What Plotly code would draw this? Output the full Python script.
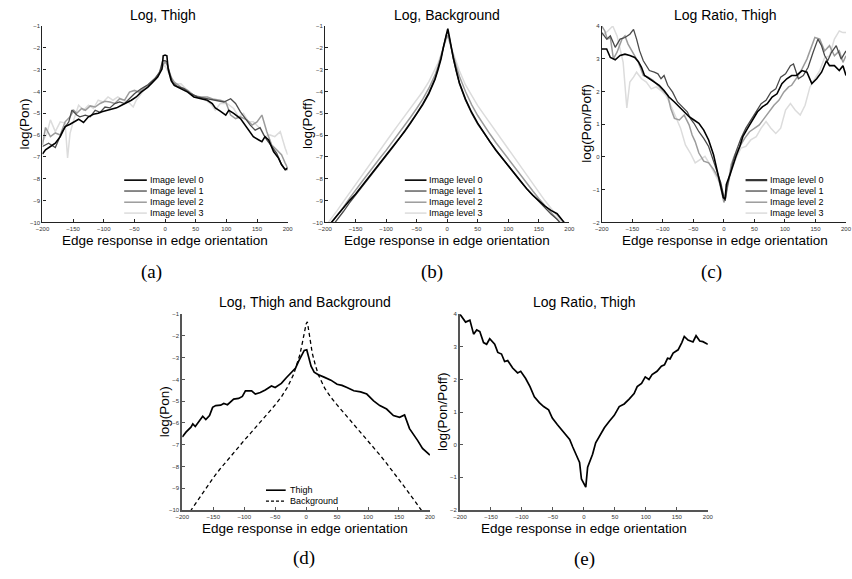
import plotly.graph_objects as go

W, H = 852, 579

# ---------------- data ----------------
X_TICKS = [-200, -150, -100, -50, 0, 50, 100, 150, 200]
Y_TICKS_LOG = list(range(-10, 0))
Y_TICKS_RATIO = list(range(-2, 5))

LEVEL_NAMES = ["Image level 0", "Image level 1", "Image level 2", "Image level 3"]

# (a) log P(on), thigh, per image level
A_X0 = [-200,-195,-187,-179,-171,-163,-155,-147,-141,-133,-125,-117,-109,-103,-95,-87,-79,-71,-63,-55,
        -47,-39,-28,-20,-12,-5,-3,0,3,5,10,15,26,37,47,58,69,77,82,90,99,104,112,123,134,144,153,158,163,169,
        177,185,190,196,200]
A_Y0 = [-6.87,-6.67,-6.52,-6.37,-6.07,-5.61,-5.5,-5.39,-5.27,-5.42,-5.16,-5.04,-5.0,-4.93,-4.86,-4.81,-4.75,-4.63,-4.52,-4.4,
        -4.25,-4.03,-3.8,-3.57,-3.34,-2.97,-2.36,-2.33,-2.36,-2.97,-3.5,-3.72,-3.87,-4.03,-4.25,-4.33,-4.4,-4.55,-4.75,-4.9,
        -5.08,-4.86,-5.0,-5.24,-5.69,-6.07,-6.22,-6.3,-6.07,-6.22,-6.75,-7.05,-7.35,-7.58,-7.5]
A_X1 = [-200,-190,-179,-168,-157,-152,-144,-139,-130,-122,-114,-106,-98,-90,-82,-74,-66,-58,-50,-39,
        -28,-17,-9,-4,0,3,7,12,20,31,42,53,64,74,85,96,107,115,123,131,139,147,155,161,166,174,182,190,196,200]
A_Y1 = [-6.52,-6.37,-6.57,-5.84,-5.39,-4.85,-5.08,-5.16,-5.08,-5.16,-4.86,-4.96,-4.71,-4.75,-4.55,-4.48,-4.55,-4.33,-4.1,-3.87,
        -3.69,-3.42,-3.12,-2.59,-2.59,-2.63,-3.12,-3.57,-3.77,-3.87,-4.1,-4.25,-4.3,-4.36,-4.4,-4.48,-4.33,-4.55,-4.93,-5.24,
        -5.54,-5.77,-5.66,-5.99,-6.22,-6.52,-6.82,-7.35,-7.58,-7.58]
A_X2 = [-200,-195,-187,-179,-171,-163,-155,-149,-144,-136,-130,-122,-114,-106,-98,-90,-82,-74,-66,-58,
        -50,-42,-33,-23,-15,-6,0,4,10,15,26,37,47,58,69,80,90,99,107,115,123,134,142,150,158,166,174,182,190,196,200]
A_Y2 = [-6.45,-5.65,-6.07,-5.9,-5.99,-5.39,-5.16,-4.86,-5.0,-4.78,-4.86,-4.66,-4.71,-4.55,-4.45,-4.48,-4.55,-4.33,-4.4,-4.03,
        -3.95,-4.03,-3.8,-3.65,-3.42,-2.97,-2.63,-2.82,-3.34,-3.57,-3.8,-3.95,-4.18,-4.25,-4.25,-4.36,-4.4,-4.48,-5.08,-5.24,
        -5.16,-5.31,-5.54,-5.39,-5.08,-5.84,-6.45,-6.67,-6.9,-7.28,-7.5]
A_X3 = [-200,-193,-187,-179,-171,-163,-159,-155,-149,-141,-133,-125,-117,-109,-101,-93,-85,-77,-69,-60,
        -52,-47,-39,-31,-23,-12,-4,0,4,10,18,26,34,42,53,64,74,82,90,101,112,120,128,136,144,155,163,171,179,188,196,200]
A_Y3 = [-6.3,-5.95,-5.3,-5.84,-5.39,-5.45,-7.05,-5.92,-5.31,-4.63,-4.86,-4.63,-4.78,-4.4,-4.48,-4.25,-4.4,-4.25,-4.4,-4.48,
        -4.71,-4.4,-4.1,-3.8,-3.57,-3.27,-2.89,-2.82,-3.04,-3.42,-3.65,-3.65,-3.87,-4.1,-4.25,-4.36,-4.55,-4.86,-4.55,-4.55,
        -4.78,-5.16,-5.0,-5.39,-5.39,-5.69,-6.07,-5.99,-6.07,-5.84,-6.6,-6.9]

# (b) log P(off), background, per image level
B_X = [-200,-190,-180,-170,-160,-150,-140,-130,-120,-110,-100,-90,-80,-70,-60,-50,-40,-30,-20,
       -15,-10,-6,-3,-1,0,1,3,6,10,15,
       20,30,40,50,60,70,80,90,100,110,120,130,140,150,160,170,180,190,200]
B_Y0 = [-10.35,-10.0,-9.65,-9.35,-9.0,-8.7,-8.35,-8.0,-7.65,-7.3,-6.95,-6.6,-6.22,-5.85,-5.45,-5.05,-4.6,-4.1,-3.45,
        -3.0,-2.5,-1.95,-1.55,-1.3,-1.2,-1.12,-1.4,-1.9,-2.45,-3.05,
        -3.6,-4.35,-4.95,-5.45,-5.9,-6.3,-6.7,-7.05,-7.42,-7.8,-8.15,-8.45,-8.75,-9.0,-9.25,-9.45,-9.6,-9.95,-10.3]
B_Y1 = [-10.6,-10.25,-9.9,-9.5,-9.1,-8.75,-8.4,-8.05,-7.7,-7.33,-6.97,-6.6,-6.22,-5.83,-5.42,-5.0,-4.55,-4.05,-3.4,
        -2.95,-2.45,-1.95,-1.5,-1.35,-1.32,-1.3,-1.45,-1.95,-2.5,-3.1,
        -3.65,-4.4,-5.0,-5.5,-5.92,-6.3,-6.68,-7.05,-7.42,-7.78,-8.12,-8.45,-8.75,-9.05,-9.35,-9.62,-9.85,-10.15,-10.5]
B_Y2 = [-10.4,-10.05,-9.7,-9.3,-8.9,-8.5,-8.15,-7.78,-7.4,-7.05,-6.7,-6.33,-5.95,-5.58,-5.18,-4.78,-4.35,-3.85,-3.25,
        -2.85,-2.4,-1.95,-1.65,-1.5,-1.45,-1.42,-1.6,-1.95,-2.35,-2.85,
        -3.3,-4.0,-4.6,-5.1,-5.55,-5.95,-6.35,-6.72,-7.1,-7.48,-7.85,-8.2,-8.55,-8.9,-9.22,-9.55,-9.85,-10.2,-10.5]
B_Y3 = [-10.2,-9.85,-9.45,-9.05,-8.65,-8.25,-7.85,-7.45,-7.05,-6.65,-6.28,-5.9,-5.52,-5.15,-4.78,-4.4,-4.0,-3.55,-3.0,
        -2.7,-2.3,-1.95,-1.7,-1.55,-1.5,-1.5,-1.65,-1.9,-2.25,-2.65,
        -3.05,-3.7,-4.2,-4.65,-5.05,-5.45,-5.85,-6.25,-6.65,-7.05,-7.45,-7.85,-8.25,-8.62,-9.0,-9.35,-9.7,-10.05,-10.4]

# (c) log ratio P(on)/P(off), thigh, per image level
C_X0 = [-200,-192,-186,-178,-170,-162,-154,-146,-140,-135,-130,-122,-114,-106,-98,-90,-81,-73,-65,-57,
        -49,-41,-33,-25,-17,-11,-5,-1,2,4,10,15,20,26,31,39,47,55,63,71,79,87,95,103,111,119,128,136,144,152,
        160,168,173,181,189,195,200]
C_Y0 = [3.3,3.3,3.04,2.97,3.1,3.14,3.1,3.04,2.91,2.74,2.49,2.39,2.29,2.19,2.03,1.83,1.68,1.53,1.4,1.23,
        1.13,1.03,0.82,0.52,0.07,-0.44,-0.89,-1.24,-1.29,-0.84,-0.54,-0.23,0.03,0.32,0.62,0.88,1.13,1.38,1.53,1.63,
        1.83,1.93,2.24,2.39,2.49,2.49,2.64,2.59,2.24,2.39,2.59,2.94,2.79,2.79,2.64,2.79,2.49]
C_X1 = [-200,-192,-186,-178,-170,-162,-154,-148,-143,-138,-132,-127,-122,-114,-108,-103,-98,-92,-84,-76,
        -68,-60,-55,-49,-41,-33,-25,-17,-11,-5,-1,2,5,10,15,20,28,36,44,53,61,69,77,85,93,101,109,114,122,130,
        138,146,154,160,165,170,176,184,192,200]
C_Y1 = [3.8,3.6,3.7,3.35,3.6,3.65,3.75,3.9,3.6,3.24,2.94,2.79,2.64,2.59,2.54,2.39,2.49,2.19,1.98,1.68,
        1.53,1.38,1.18,1.03,0.77,0.57,0.32,-0.13,-0.49,-0.79,-1.14,-1.34,-0.94,-0.49,-0.13,0.17,0.57,0.88,1.13,1.38,
        1.63,1.73,1.98,2.08,2.44,2.54,2.79,2.84,2.39,2.49,2.74,3.19,3.6,3.4,3.1,2.94,3.19,3.4,2.99,3.24]
C_X2 = [-200,-195,-191,-186,-181,-175,-167,-162,-157,-148,-140,-132,-124,-116,-108,-100,-92,-87,-81,-73,
        -65,-57,-52,-47,-41,-33,-25,-17,-9,-4,0,3,7,12,18,26,34,42,50,58,66,74,82,90,98,106,111,120,128,136,
        144,149,157,165,173,181,189,195,200]
C_Y2 = [4.0,3.85,3.6,3.65,3.0,3.2,3.6,3.7,3.45,3.14,2.89,2.49,2.44,2.34,2.19,2.03,1.88,1.48,1.18,1.13,
        1.28,0.98,0.67,0.47,0.12,-0.13,-0.18,-0.38,-0.64,-1.04,-1.39,-1.24,-0.74,-0.23,0.07,0.32,0.57,0.77,0.88,0.98,
        1.18,1.38,1.58,1.73,1.98,2.14,2.19,2.44,2.69,2.99,3.4,3.65,3.6,3.24,3.4,3.09,3.24,2.89,3.09]
C_X3 = [-200,-190,-182,-175,-170,-165,-159,-154,-148,-143,-135,-127,-119,-111,-103,-95,-87,-79,-71,-63,
        -55,-47,-39,-31,-23,-14,-6,-1,2,7,12,20,28,36,44,53,61,69,77,85,93,101,109,117,125,133,141,149,157,165,
        173,181,189,195,200]
C_Y3 = [3.7,3.85,4.0,3.7,3.3,2.89,1.5,2.29,2.44,2.59,2.39,2.29,2.08,2.14,2.03,1.88,1.58,1.23,0.88,0.37,
        0.12,-0.18,-0.08,0.02,-0.23,-0.54,-0.84,-1.14,-1.19,-0.84,-0.44,-0.03,0.27,0.32,0.52,0.62,0.88,1.08,0.88,0.72,
        0.88,1.43,1.63,1.43,1.28,1.58,2.14,2.39,2.64,3.04,3.09,3.6,3.85,3.8,3.8]

# (d) log P(on) thigh vs log P(off) background
D_X_THIGH = [-200,-194,-186,-183,-179,-172,-167,-162,-156,-151,-146,-138,-133,-127,-122,-117,-109,-103,-98,-88,
             -82,-74,-66,-56,-50,-40,-32,-24,-17,-12,-7,-3,1,4,8,13,19,29,40,50,
             58,66,77,88,98,109,119,130,141,151,159,167,172,180,188,200]
D_THIGH = [-6.64,-6.42,-6.19,-6.04,-6.16,-5.89,-5.69,-5.84,-5.66,-5.28,-5.2,-5.18,-5.1,-5.16,-5.02,-4.9,-4.87,-4.78,-4.52,-4.52,
           -4.67,-4.6,-4.48,-4.3,-4.37,-4.18,-3.92,-3.69,-3.47,-3.16,-2.86,-2.66,-2.63,-2.94,-3.39,-3.66,-3.77,-3.89,-4.03,-4.22,
           -4.27,-4.37,-4.52,-4.57,-4.67,-4.98,-5.2,-5.36,-5.66,-5.74,-5.63,-6.26,-6.45,-6.8,-7.17,-7.48]
D_X_BG = [-200,-190,-180,-170,-160,-150,-140,-130,-120,-110,-100,-90,-80,-70,-60,-50,-40,-30,-20,
          -15,-10,-6,-3,0,2,4,7,10,15,20,
          30,40,50,60,70,80,90,100,110,120,130,140,150,160,170,180,190,200]
D_BG = [-10.6,-10.18,-9.76,-9.34,-8.92,-8.52,-8.15,-7.8,-7.46,-7.13,-6.8,-6.48,-6.16,-5.84,-5.51,-5.17,-4.8,-4.35,-3.75,
        -3.35,-2.85,-2.3,-1.8,-1.45,-1.35,-1.7,-2.35,-2.8,-3.35,-3.8,
        -4.4,-4.82,-5.17,-5.5,-5.83,-6.15,-6.47,-6.8,-7.15,-7.5,-7.86,-8.22,-8.6,-8.98,-9.37,-9.76,-10.16,-10.56]

# (e) log ratio, thigh
E_X = [-200,-191,-184,-178,-173,-168,-162,-157,-152,-144,-139,-133,-128,-123,-115,-107,-102,-94,-87,-80,
       -72,-65,-57,-51,-43,-35,-30,-23,-18,-13,-7,-4,0,3,6,9,14,19,25,33,
       41,49,57,65,73,81,86,93,99,105,110,118,125,130,135,139,144,152,158,162,
       168,176,181,187,192,200]
E_Y = [4.0,3.76,3.82,3.39,3.52,3.47,3.13,3.08,3.25,3.08,2.83,2.78,2.55,2.58,2.35,2.2,2.25,2.03,1.78,1.47,
       1.29,1.17,1.07,0.82,0.62,0.44,0.33,0.16,-0.07,-0.29,-0.54,-1.05,-1.2,-1.3,-0.69,-0.54,-0.29,0.06,0.26,0.52,
       0.72,0.9,1.17,1.25,1.4,1.57,1.78,1.88,2.08,2.0,2.15,2.25,2.41,2.45,2.65,2.63,2.81,2.91,3.13,3.32,
       3.21,3.15,3.34,3.18,3.16,3.08]

# ---------------- styling ----------------
SANS = "Liberation Sans, Arial, sans-serif"
SERIF = "Liberation Serif, Times New Roman, serif"
LEVEL_COLORS = ["#000000", "#4a4a4a", "#9c9c9c", "#dcdcdc"]
LEVEL_WIDTHS = [1.6, 1.3, 1.5, 1.5]


def fx(p):
    return p / W


def fy(p):
    return 1 - p / H


# panel geometry in pixels: left, right, top, bottom
PANELS = [
    dict(n="", box=(36, 285, 23.3, 221.7), yr=(-10, -1), yt=Y_TICKS_LOG, lw=1.2, lc="#222222"),
    dict(n="2", box=(323, 571, 23.3, 221.7), yr=(-10, -1), yt=Y_TICKS_LOG, lw=1.2, lc="#222222"),
    dict(n="3", box=(604, 852, 23.3, 221.7), yr=(-2, 4), yt=Y_TICKS_RATIO, lw=1.2, lc="#222222"),
    dict(n="4", box=(178, 429.5, 314.5, 512.3), yr=(-10, -1), yt=Y_TICKS_LOG, lw=1.8, lc="#555555"),
    dict(n="5", box=(460, 711.7, 314.5, 512.3), yr=(-2, 4), yt=Y_TICKS_RATIO, lw=1.8, lc="#555555"),
]

fig = go.Figure()

layout = dict(
    width=W, height=H, margin=dict(l=0, r=0, t=0, b=0),
    paper_bgcolor="white", plot_bgcolor="white", showlegend=False,
    font=dict(family=SANS, color="black"),
)
for p in PANELS:
    l, r, t, b = p["box"]
    common = dict(showgrid=False, zeroline=False, showline=True, linecolor=p["lc"], linewidth=p["lw"],
                  ticks="inside", ticklen=3, tickwidth=1, tickcolor=p["lc"],
                  tickfont=dict(size=6, color="#333333", family=SANS), mirror=False, fixedrange=True)
    layout["xaxis" + p["n"]] = dict(domain=[fx(l), fx(r)], range=[-200, 200], tickvals=X_TICKS,
                                    anchor="y" + p["n"], ticklabelstandoff=0, **common)
    layout["yaxis" + p["n"]] = dict(domain=[fy(b), fy(t)], range=list(p["yr"]), tickvals=p["yt"],
                                    anchor="x" + p["n"], **common)
fig.update_layout(**layout)


def add_line(xs, ys, n, color, width, dash="solid", name=None):
    fig.add_trace(go.Scatter(x=xs, y=ys, mode="lines", xaxis="x" + n, yaxis="y" + n, name=name,
                             line=dict(color=color, width=width, dash=dash), hoverinfo="skip"))


# draw lighter levels first so darker lines sit on top
for xs, ys, n in [((A_X0, A_X1, A_X2, A_X3), (A_Y0, A_Y1, A_Y2, A_Y3), ""),
                  ((B_X, B_X, B_X, B_X), (B_Y0, B_Y1, B_Y2, B_Y3), "2"),
                  ((C_X0, C_X1, C_X2, C_X3), (C_Y0, C_Y1, C_Y2, C_Y3), "3")]:
    for i in (3, 2, 1, 0):
        add_line(xs[i], ys[i], n, LEVEL_COLORS[i], LEVEL_WIDTHS[i], name=LEVEL_NAMES[i])

add_line(D_X_BG, D_BG, "4", "#000000", 1.3, dash="4px,3px", name="Background")
add_line(D_X_THIGH, D_THIGH, "4", "#000000", 1.7, name="Thigh")
add_line(E_X, E_Y, "5", "#000000", 1.7, name="Log ratio")

shapes = []
annotations = []


def text(s, x, y, size, family=SANS, angle=0, xanchor="center"):
    annotations.append(dict(text=s, x=fx(x), y=fy(y), xref="paper", yref="paper", showarrow=False,
                            xanchor=xanchor, yanchor="middle", textangle=angle, borderpad=0,
                            font=dict(size=size, family=family, color="black")))


def legend(x_line0, x_line1, x_text, rows_y, names, colors, widths, dashes):
    for yv, nm, c, w, d in zip(rows_y, names, colors, widths, dashes):
        shapes.append(dict(type="line", xref="paper", yref="paper", x0=fx(x_line0), x1=fx(x_line1),
                           y0=fy(yv), y1=fy(yv), line=dict(color=c, width=w, dash=d)))
        text(nm, x_text, yv, 9, xanchor="left")


rows = [179, 190, 201.3, 212.3]
legend(119, 142, 144, rows, LEVEL_NAMES, LEVEL_COLORS, LEVEL_WIDTHS, ["solid"] * 4)
legend(404, 426, 428, rows, LEVEL_NAMES, LEVEL_COLORS, LEVEL_WIDTHS, ["solid"] * 4)
legend(750, 772, 774, rows, LEVEL_NAMES, ["#333333", "#4a4a4a", "#9c9c9c", "#dcdcdc"],
       [2.2, 1.3, 1.5, 1.5], ["solid"] * 4)
legend(263, 283, 286, [492.3, 503.3], ["Thigh", "Background"], ["#000000", "#000000"], [1.6, 1.3],
       ["solid", "3px,2px"])

# titles
text("Log, Thigh", 158, 12, 14)
text("Log, Background", 447, 12, 14)
text("Log Ratio, Thigh", 729, 12, 14)
text("Log, Thigh and Background", 303, 302, 14)
text("Log Ratio, Thigh", 586, 302, 14)

# axis titles
for cx, cy in [(160, 240), (447, 240), (729, 240), (303, 530.5), (586, 530.5)]:
    text("Edge response in edge orientation", cx, cy, 13.5)
text("log(Pon)", 18, 122, 13.5, angle=-90)
text("log(Poff)", 305, 122, 13.5, angle=-90)
text("log(Pon/Poff)", 589, 122, 13.5, angle=-90)
text("log(Pon)", 160, 413, 13.5, angle=-90)
text("log(Pon/Poff)", 442, 413, 13.5, angle=-90)

# panel labels
for s, cx, cy in [("(a)", 147, 272), ("(b)", 432, 272), ("(c)", 715, 272), ("(d)", 302, 561), ("(e)", 586, 562)]:
    text(s, cx, cy, 19, family=SERIF)

fig.update_layout(shapes=shapes, annotations=annotations)
fig.write_html("out.html")
